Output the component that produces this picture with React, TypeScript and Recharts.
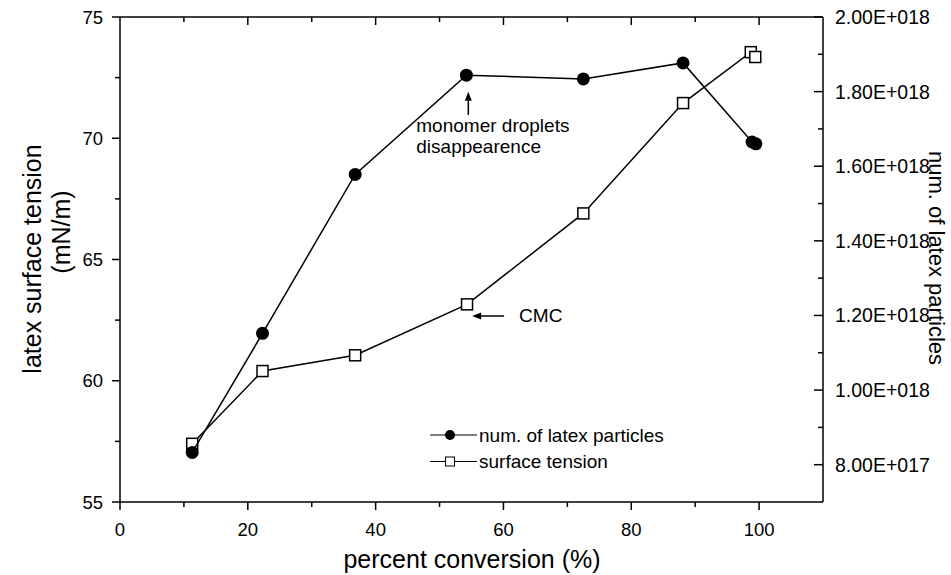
import React from 'react';
import { ComposedChart, Scatter, XAxis, YAxis, ReferenceLine } from 'recharts';

// percent conversion (x) for each series
const tensionConversion = [11.3, 22.3, 36.8, 54.3, 72.5, 88.1, 98.7, 99.4];
const surfaceTension = [57.4, 60.4, 61.05, 63.15, 66.9, 71.45, 73.55, 73.35];

const particleConversion = [11.3, 22.3, 36.8, 54.2, 72.5, 88.1, 98.9, 99.5];
const particleCount = [0.833e18, 1.152e18, 1.578e18, 1.844e18, 1.834e18, 1.877e18, 1.665e18, 1.66e18];

const xTicks = [0, 10, 20, 30, 40, 50, 60, 70, 80, 90, 100];
const leftTicks = [55, 57.5, 60, 62.5, 65, 67.5, 70, 72.5, 75];
const rightTicks = [8e17, 9e17, 1e18, 1.1e18, 1.2e18, 1.3e18, 1.4e18, 1.5e18, 1.6e18, 1.7e18, 1.8e18, 1.9e18, 2e18];

const tensionData = tensionConversion.map((x, i) => ({ x, y: surfaceTension[i] }));
const particleData = particleConversion.map((x, i) => ({ x, y: particleCount[i] }));

const sci = (v: number) => {
  const e = Math.floor(Math.log10(v) + 1e-9);
  const m = v / Math.pow(10, e);
  return m.toFixed(2) + 'E+' + String(e).padStart(3, '0');
};

const LeftTick = ({ x, y, payload }: any) => {
  const major = payload.value % 5 === 0;
  return (
    <g>
      <line x1={x - (major ? 8 : 5)} x2={x} y1={y} y2={y} stroke="#000" strokeWidth={1.5} />
      {major && (
        <text x={x - 17} y={y + 6.5} textAnchor="end" fontSize={18.5} fill="#000">
          {payload.value}
        </text>
      )}
    </g>
  );
};

const RightTick = ({ x, y, payload }: any) => {
  const major = Math.round(payload.value / 1e17) % 2 === 0;
  return (
    <g>
      <line x1={x - (major ? 9 : 5)} x2={x} y1={y} y2={y} stroke="#000" strokeWidth={1.5} />
      {major && (
        <text x={x + 12} y={y + 7} textAnchor="start" fontSize={19.5} fill="#000">
          {sci(payload.value)}
        </text>
      )}
    </g>
  );
};

const BottomTick = ({ x, y, payload }: any) => {
  const major = payload.value % 20 === 0;
  return (
    <g>
      <line x1={x} x2={x} y1={y} y2={y + (major ? 8 : 5)} stroke="#000" strokeWidth={1.5} />
      {major && (
        <text x={x} y={y + 34} textAnchor="middle" fontSize={18.5} fill="#000">
          {payload.value}
        </text>
      )}
    </g>
  );
};

const TopTick = ({ x, y, payload }: any) => {
  const major = payload.value % 20 === 0;
  return <line x1={x} x2={x} y1={y} y2={y + (major ? 8 : 5)} stroke="#000" strokeWidth={1.5} />;
};

const Circle = ({ cx, cy }: any) => <circle cx={cx} cy={cy} r={6.5} fill="#000" />;
const Square = ({ cx, cy }: any) => (
  <rect x={cx - 5.5} y={cy - 5.5} width={11} height={11} fill="#fff" stroke="#000" strokeWidth={1.5} />
);
const Nothing = () => <g />;

// arrow from tail (x1,y1) to tip (x2,y2), with text lines placed relative to the tail
const arrow = (lines: { text: string; dx: number; dy: number }[]) => (p: any) => {
  const { x1, y1, x2, y2 } = p;
  const len = Math.hypot(x2 - x1, y2 - y1) || 1;
  const ux = (x2 - x1) / len;
  const uy = (y2 - y1) / len;
  const hl = 9;
  const hw = 3.5;
  const bx = x2 - ux * hl;
  const by = y2 - uy * hl;
  return (
    <g>
      <line x1={x1} y1={y1} x2={bx} y2={by} stroke="#000" strokeWidth={1.5} />
      <polygon
        points={`${x2},${y2} ${bx - uy * hw},${by + ux * hw} ${bx + uy * hw},${by - ux * hw}`}
        fill="#000"
      />
      {lines.map((l, i) => (
        <text key={i} x={x1 + l.dx} y={y1 + l.dy} fontSize={19} fill="#000">
          {l.text}
        </text>
      ))}
    </g>
  );
};

const axisLine = { stroke: '#000', strokeWidth: 1.5 };

export default function App() {
  return (
    <div
      style={{
        position: 'absolute',
        left: 0,
        top: 0,
        width: 951,
        height: 575,
        background: '#fff',
        overflow: 'hidden',
        fontFamily: '"Liberation Sans", Arial, sans-serif',
      }}
    >
      <ComposedChart width={951} height={575} margin={{ top: 16, right: 68, bottom: 33, left: 60 }}>
        <XAxis
          xAxisId="b"
          type="number"
          dataKey="x"
          domain={[0, 110]}
          ticks={xTicks}
          interval={0}
          height={40}
          tickSize={0}
          tickMargin={0}
          tickLine={false}
          axisLine={axisLine}
          tick={<BottomTick />}
          allowDataOverflow
        />
        <XAxis
          xAxisId="t"
          orientation="top"
          type="number"
          dataKey="x"
          domain={[0, 110]}
          ticks={xTicks.slice(1)}
          interval={0}
          height={1}
          tickSize={0}
          tickMargin={0}
          tickLine={false}
          axisLine={axisLine}
          tick={<TopTick />}
          allowDataOverflow
        />
        <YAxis
          yAxisId="l"
          type="number"
          dataKey="y"
          domain={[55, 75]}
          ticks={leftTicks}
          interval={0}
          width={60}
          tickSize={0}
          tickMargin={0}
          tickLine={false}
          axisLine={axisLine}
          tick={<LeftTick />}
          allowDataOverflow
        />
        <YAxis
          yAxisId="r"
          orientation="right"
          type="number"
          dataKey="y"
          domain={[7e17, 2e18]}
          ticks={rightTicks}
          interval={0}
          width={60}
          tickSize={0}
          tickMargin={0}
          tickLine={false}
          axisLine={axisLine}
          tick={<RightTick />}
          allowDataOverflow
        />
        {/* invisible series so the mirrored top axis has data to scale */}
        <Scatter xAxisId="t" yAxisId="l" data={tensionData} shape={<Nothing />} isAnimationActive={false} />
        <Scatter
          xAxisId="b"
          yAxisId="l"
          data={tensionData}
          line={{ stroke: '#000', strokeWidth: 1.5 }}
          shape={<Square />}
          isAnimationActive={false}
        />
        <Scatter
          xAxisId="b"
          yAxisId="r"
          data={particleData}
          line={{ stroke: '#000', strokeWidth: 1.5 }}
          shape={<Circle />}
          isAnimationActive={false}
        />
        <ReferenceLine
          xAxisId="b"
          yAxisId="l"
          segment={[{ x: 54.5, y: 70.96 }, { x: 54.5, y: 71.92 }]}
          shape={arrow([
            { text: 'monomer droplets', dx: -52, dy: 17 },
            { text: 'disappearence', dx: -52, dy: 38 },
          ])}
        />
        <ReferenceLine
          xAxisId="b"
          yAxisId="l"
          segment={[{ x: 60.1, y: 62.67 }, { x: 55.1, y: 62.67 }]}
          shape={arrow([{ text: 'CMC', dx: 15, dy: 6 }])}
        />
      </ComposedChart>
      <svg
        width={951}
        height={575}
        style={{ position: 'absolute', left: 0, top: 0, pointerEvents: 'none' }}
      >
        <text transform="translate(41,259) rotate(-90)" textAnchor="middle" fontSize={25} fill="#000">
          latex surface tension
        </text>
        <text transform="translate(70,232) rotate(-90)" textAnchor="middle" fontSize={25} fill="#000">
          (mN/m)
        </text>
        <text transform="translate(929,258) rotate(90)" textAnchor="middle" fontSize={22} fill="#000">
          num. of latex particles
        </text>
        <text x={472} y={568} textAnchor="middle" fontSize={25} fill="#000">
          percent conversion (%)
        </text>
        <line x1={430} x2={477} y1={435} y2={435} stroke="#000" strokeWidth={1} />
        <circle cx={450} cy={435} r={5} fill="#000" />
        <text x={479} y={442} fontSize={19} fill="#000">
          num. of latex particles
        </text>
        <line x1={430} x2={477} y1={461.5} y2={461.5} stroke="#000" strokeWidth={1} />
        <rect x={445.5} y={457} width={9} height={9} fill="#fff" stroke="#000" strokeWidth={1} />
        <text x={479} y={468} fontSize={19} fill="#000">
          surface tension
        </text>
      </svg>
    </div>
  );
}
